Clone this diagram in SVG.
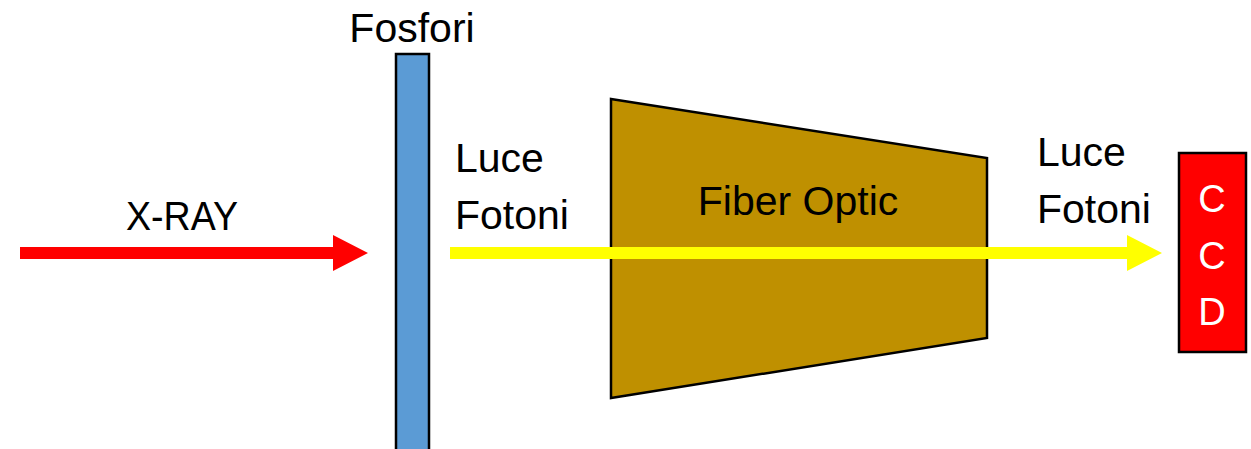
<svg xmlns="http://www.w3.org/2000/svg" width="1251" height="449" viewBox="0 0 1251 449">
<style>
text { font-family: "Liberation Sans", Arial, sans-serif; fill: #000; }
.lbl { font-size: 41px; }
.ccd { font-size: 38px; fill: #fff; text-anchor: middle; }
.shape { stroke: #000; stroke-width: 2.5; }
</style>
<rect width="1251" height="449" fill="#fff"/>
<g id="phosphor">
<rect class="shape" x="396" y="54" width="33" height="410" fill="#5B9BD5"/>
<text class="lbl" x="412" y="42" text-anchor="middle">Fosfori</text>
</g>
<g id="fiber-optic">
<polygon class="shape" points="611,99 987,158 987,338 611,398" fill="#BF9000"/>
<text class="lbl" x="798" y="215" text-anchor="middle">Fiber Optic</text>
</g>
<g id="ccd">
<rect class="shape" x="1179" y="153" width="67" height="199" fill="#FF0000"/>
<text class="ccd" x="1212" y="212">C</text>
<text class="ccd" x="1212" y="269">C</text>
<text class="ccd" x="1212" y="325">D</text>
</g>
<g id="connectors">
<g id="xray-arrow">
<polygon points="20,247 333,247 333,235 368,253 333,271 333,259 20,259" fill="#FF0000"/>
<text class="lbl" x="126" y="230" textLength="112" lengthAdjust="spacingAndGlyphs">X-RAY</text>
</g>
<g id="light-arrow">
<polygon points="450,247 1127,247 1127,235 1162,253 1127,271 1127,259 450,259" fill="#FFFF00"/>
<text class="lbl" x="455" y="172">Luce</text>
<text class="lbl" x="455" y="229">Fotoni</text>
<text class="lbl" x="1037" y="166">Luce</text>
<text class="lbl" x="1037" y="223">Fotoni</text>
</g>
</g>
</svg>
